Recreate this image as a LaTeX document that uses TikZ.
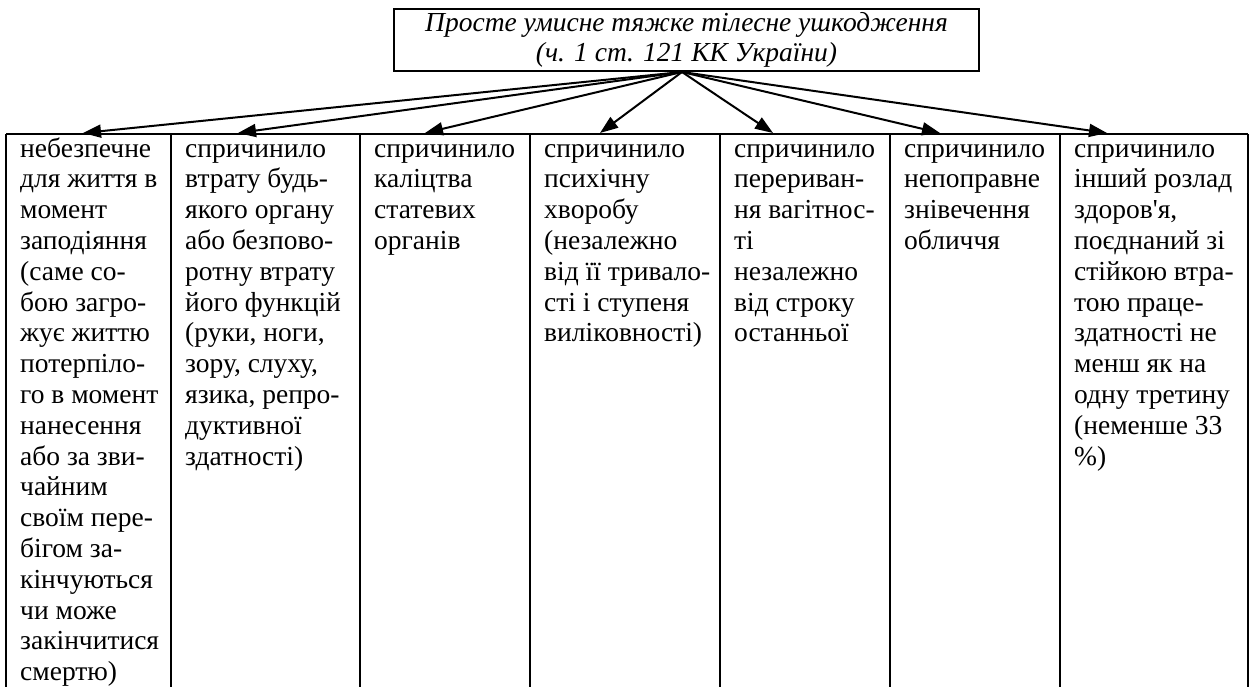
\documentclass[tikz,border=0pt]{standalone}
\usepackage{fontspec}
\setmainfont{Liberation Serif}
\usetikzlibrary{arrows.meta}
\begin{document}
\begin{tikzpicture}[x=1pt,y=-1pt,
  frame/.style={line width=2pt},
  arr/.style={line width=2pt,-{Triangle[length=18pt,width=13pt]}},
  coltext/.style={anchor=north west,inner sep=0pt,align=left,
    font=\fontsize{27.5}{30.8}\selectfont},
  topbox/.style={draw,line width=2pt,minimum width=585pt,minimum height=62pt,
    inner sep=0pt,align=center,font=\fontsize{27.5}{30}\selectfont\itshape},
]
\useasboundingbox (0,0) rectangle (1254,687);
% top box
\node[topbox] (top) at (686.5,40) {Просте умисне тяжке тілесне ушкодження\\(ч. 1 ст. 121 КК України)};
% table frame
\draw[frame] (6,134) -- (1248,134);
\foreach \x in {6,171,360,530,720,890,1060,1248}
  \draw[frame] (\x,134) -- (\x,690);
% column texts
\node[coltext] (c1) at (20,135.4) {\strut небезпечне\\для життя в\\момент\\заподіяння\\(саме со-\\бою загро-\\жує життю\\потерпіло-\\го в момент\\нанесення\\або за зви-\\чайним\\своїм пере-\\бігом за-\\кінчуються\\чи може\\закінчитися\\смертю)};
\node[coltext] (c2) at (185,135.4) {\strut спричинило\\втрату будь-\\якого органу\\або безпово-\\ротну втрату\\його функцій\\(руки, ноги,\\зору, слуху,\\язика, репро-\\дуктивної\\здатності)};
\node[coltext] (c3) at (374,135.4) {\strut спричинило\\каліцтва\\статевих\\органів};
\node[coltext] (c4) at (544,135.4) {\strut спричинило\\психічну\\хворобу\\(незалежно\\від її тривало-\\сті і ступеня\\виліковності)};
\node[coltext] (c5) at (734,135.4) {\strut спричинило\\перериван-\\ня вагітнос-\\ті\\незалежно\\від строку\\останньої};
\node[coltext] (c6) at (904,135.4) {\strut спричинило\\непоправне\\знівечення\\обличчя};
\node[coltext] (c7) at (1074,135.4) {\strut спричинило\\інший розлад\\здоров\textquotesingle я,\\поєднаний зі\\стійкою втра-\\тою праце-\\здатності не\\менш як на\\одну третину\\(неменше 33\\\%)};
% arrow targets
\coordinate (src) at (682,72);
\coordinate (a1) at (83,133);
\coordinate (a2) at (238,133);
\coordinate (a3) at (425,133);
\coordinate (a4) at (600,133);
\coordinate (a5) at (773,133);
\coordinate (a6) at (940,133);
\coordinate (a7) at (1107,133);
\foreach \t in {a1,a2,a3,a4,a5,a6,a7}
  \draw[arr] (src) -- (\t);
\end{tikzpicture}
\end{document}
